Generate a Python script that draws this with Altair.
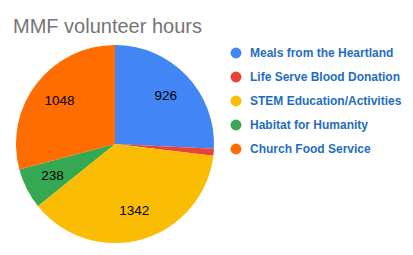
import altair as alt
import pandas as pd

categories = ["Meals from the Heartland", "Life Serve Blood Donation",
              "STEM Education/Activities", "Habitat for Humanity",
              "Church Food Service"]
hours = [926, 40, 1342, 238, 1048]
labels = ["926", "", "1342", "238", "1048"]
colors = ["#4285f4", "#ea4335", "#fbbc04", "#34a853", "#ff6d01"]

df = pd.DataFrame({
    "category": categories,
    "hours": hours,
    "label": labels,
    "idx": list(range(len(categories))),
})

CX, CY = 115, 104  # pie centre within plot area
R = 99
FONT = "Liberation Sans"

base = alt.Chart(df).encode(
    theta=alt.Theta("hours:Q", stack=True),
    order=alt.Order("idx:Q"),
)

pie = base.mark_arc(outerRadius=R).encode(
    x=alt.value(CX),
    y=alt.value(CY),
    color=alt.Color(
        "category:N",
        scale=alt.Scale(domain=categories, range=colors),
        sort=categories,
        legend=alt.Legend(
            title=None,
            orient="none",
            legendX=230,
            legendY=7,
            symbolType="circle",
            symbolSize=120,
            symbolStrokeWidth=0,
            labelFont=FONT,
            labelFontSize=12,
            labelFontWeight="bold",
            labelColor="#1f6dc2",
            labelOffset=8,
            rowPadding=12,
            labelLimit=300,
        ),
    ),
)

text = base.mark_text(radius=70, font=FONT, fontSize=13.5, color="#000000").encode(
    x=alt.value(CX),
    y=alt.value(CY),
    text="label:N",
)

chart = alt.layer(pie, text).properties(
    width=413,
    height=215,
    padding={"left": 0, "top": 40, "right": 0, "bottom": 0},
    autosize=alt.AutoSizeParams(type="none"),
    title=alt.Title(
        "MMF volunteer hours",
        anchor="start",
        dx=13,
        font=FONT,
        fontSize=20,
        fontWeight="normal",
        color="#757575",
        offset=3,
    ),
).configure_view(stroke=None)

chart.save("out.html", embed_options={"renderer": "svg", "actions": False})
